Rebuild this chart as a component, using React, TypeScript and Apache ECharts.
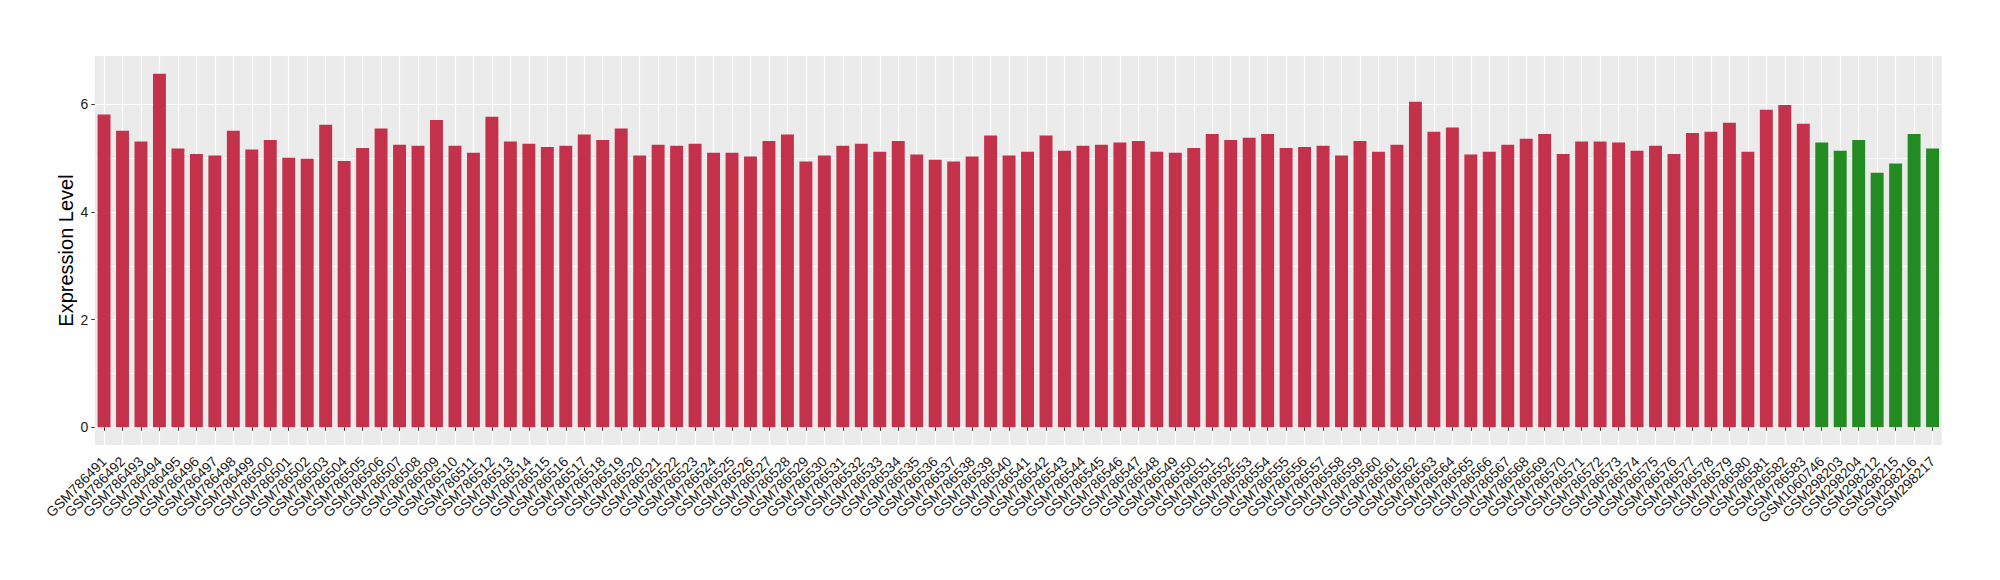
import React, { useEffect, useRef } from "react";
import * as echarts from "echarts";

const tumorSamples = [
  "GSM786491", "GSM786492", "GSM786493", "GSM786494", "GSM786495", "GSM786496", "GSM786497", "GSM786498", "GSM786499", "GSM786500",
  "GSM786501", "GSM786502", "GSM786503", "GSM786504", "GSM786505", "GSM786506", "GSM786507", "GSM786508", "GSM786509", "GSM786510",
  "GSM786511", "GSM786512", "GSM786513", "GSM786514", "GSM786515", "GSM786516", "GSM786517", "GSM786518", "GSM786519", "GSM786520",
  "GSM786521", "GSM786522", "GSM786523", "GSM786524", "GSM786525", "GSM786526", "GSM786527", "GSM786528", "GSM786529", "GSM786530",
  "GSM786531", "GSM786532", "GSM786533", "GSM786534", "GSM786535", "GSM786536", "GSM786537", "GSM786538", "GSM786539", "GSM786540",
  "GSM786541", "GSM786542", "GSM786543", "GSM786544", "GSM786545", "GSM786546", "GSM786547", "GSM786548", "GSM786549", "GSM786550",
  "GSM786551", "GSM786552", "GSM786553", "GSM786554", "GSM786555", "GSM786556", "GSM786557", "GSM786558", "GSM786559", "GSM786560",
  "GSM786561", "GSM786562", "GSM786563", "GSM786564", "GSM786565", "GSM786566", "GSM786567", "GSM786568", "GSM786569", "GSM786570",
  "GSM786571", "GSM786572", "GSM786573", "GSM786574", "GSM786575", "GSM786576", "GSM786577", "GSM786578", "GSM786579", "GSM786580",
  "GSM786581", "GSM786582", "GSM786583"
];

const tumorValues = [
  5.81, 5.51, 5.31, 6.57, 5.18, 5.08, 5.05, 5.51, 5.16, 5.34,
  5.01, 4.99, 5.62, 4.95, 5.19, 5.55, 5.25, 5.23, 5.71, 5.23,
  5.10, 5.77, 5.31, 5.27, 5.21, 5.23, 5.44, 5.34, 5.55, 5.05,
  5.25, 5.23, 5.27, 5.10, 5.10, 5.03, 5.32, 5.44, 4.94, 5.05,
  5.23, 5.27, 5.12, 5.32, 5.07, 4.97, 4.94, 5.03, 5.42, 5.05,
  5.12, 5.42, 5.14, 5.23, 5.25, 5.29, 5.32, 5.12, 5.10, 5.19,
  5.45, 5.34, 5.38, 5.45, 5.19, 5.21, 5.23, 5.05, 5.32, 5.12,
  5.25, 6.05, 5.49, 5.57, 5.07, 5.12, 5.25, 5.36, 5.45, 5.08,
  5.31, 5.31, 5.29, 5.14, 5.23, 5.08, 5.47, 5.49, 5.66, 5.12,
  5.90, 5.99, 5.64
];

const normalSamples = ["GSM1060746", "GSM298203", "GSM298204", "GSM298212", "GSM298215", "GSM298216", "GSM298217"];
const normalValues = [5.29, 5.14, 5.34, 4.73, 4.90, 5.45, 5.18];

const yTickValues = [0, 2, 4, 6];
const yMinorValues = [1, 3, 5];

const FONT = "'Liberation Sans', Arial, Helvetica, sans-serif";

export default function App() {
  const ref = useRef<HTMLDivElement>(null);

  useEffect(() => {
    document.body.style.margin = "0";
    const chart = echarts.init(ref.current!, null, { renderer: "svg" });
    const categories = [...tumorSamples, ...normalSamples];
    const nT = tumorSamples.length;
    const tumorData = categories.map((_, i) => (i < nT ? tumorValues[i] : "-"));
    const normalData = categories.map((_, i) => (i >= nT ? normalValues[i - nT] : "-"));

    chart.setOption({
      animation: false,
      grid: {
        left: 94.8,
        right: 58.2,
        top: 56,
        bottom: 135,
        show: true,
        backgroundColor: "#EBEBEB",
        borderWidth: 0,
      },
      xAxis: {
        type: "category",
        data: categories,
        axisLine: { show: false },
        axisTick: {
          show: true,
          alignWithLabel: true,
          interval: 0,
          length: 3.5,
          lineStyle: { color: "#333333", width: 1 },
        },
        axisLabel: {
          interval: 0,
          rotate: 45,
          margin: 14,
          padding: [6, 0, 0, 0],
          fontSize: 14,
          color: "#1A1A1A",
          fontFamily: FONT,
        },
        splitLine: {
          show: true,
          interval: 0,
          alignWithLabel: true,
          lineStyle: { color: "#FFFFFF", width: 1.2 },
        },
      },
      yAxis: {
        type: "value",
        min: -0.3285,
        max: 6.8985,
        splitNumber: 4,
        name: "Expression Level",
        nameLocation: "middle",
        nameRotate: 90,
        nameGap: 19,
        nameMoveOverlap: false,
        nameTextStyle: { fontSize: 20, color: "#000000", fontFamily: FONT },
        axisLine: { show: false },
        axisTick: {
          show: true,
          length: 3.5,
          customValues: yTickValues,
          lineStyle: { color: "#333333", width: 1 },
        },
        axisLabel: {
          customValues: yTickValues,
          margin: 6.5,
          fontSize: 14,
          color: "#1A1A1A",
          fontFamily: FONT,
        },
        splitLine: { show: true, lineStyle: { color: "#FFFFFF", width: 1.2 } },
      },
      series: [
        {
          type: "bar",
          name: "Tumor",
          data: tumorData,
          barCategoryGap: "30%",
          barGap: "-100%",
          itemStyle: { color: "#C3324A" },
          markLine: {
            silent: true,
            symbol: "none",
            z: 1,
            label: { show: false },
            lineStyle: { color: "#FFFFFF", width: 0.6, type: "solid" },
            data: yMinorValues.map((v) => ({ yAxis: v })),
          },
        },
        {
          type: "bar",
          name: "Normal",
          data: normalData,
          barCategoryGap: "30%",
          barGap: "-100%",
          itemStyle: { color: "#228B22" },
        },
      ],
    });

    return () => chart.dispose();
  }, []);

  return <div ref={ref} style={{ width: 2000, height: 580 }} />;
}
